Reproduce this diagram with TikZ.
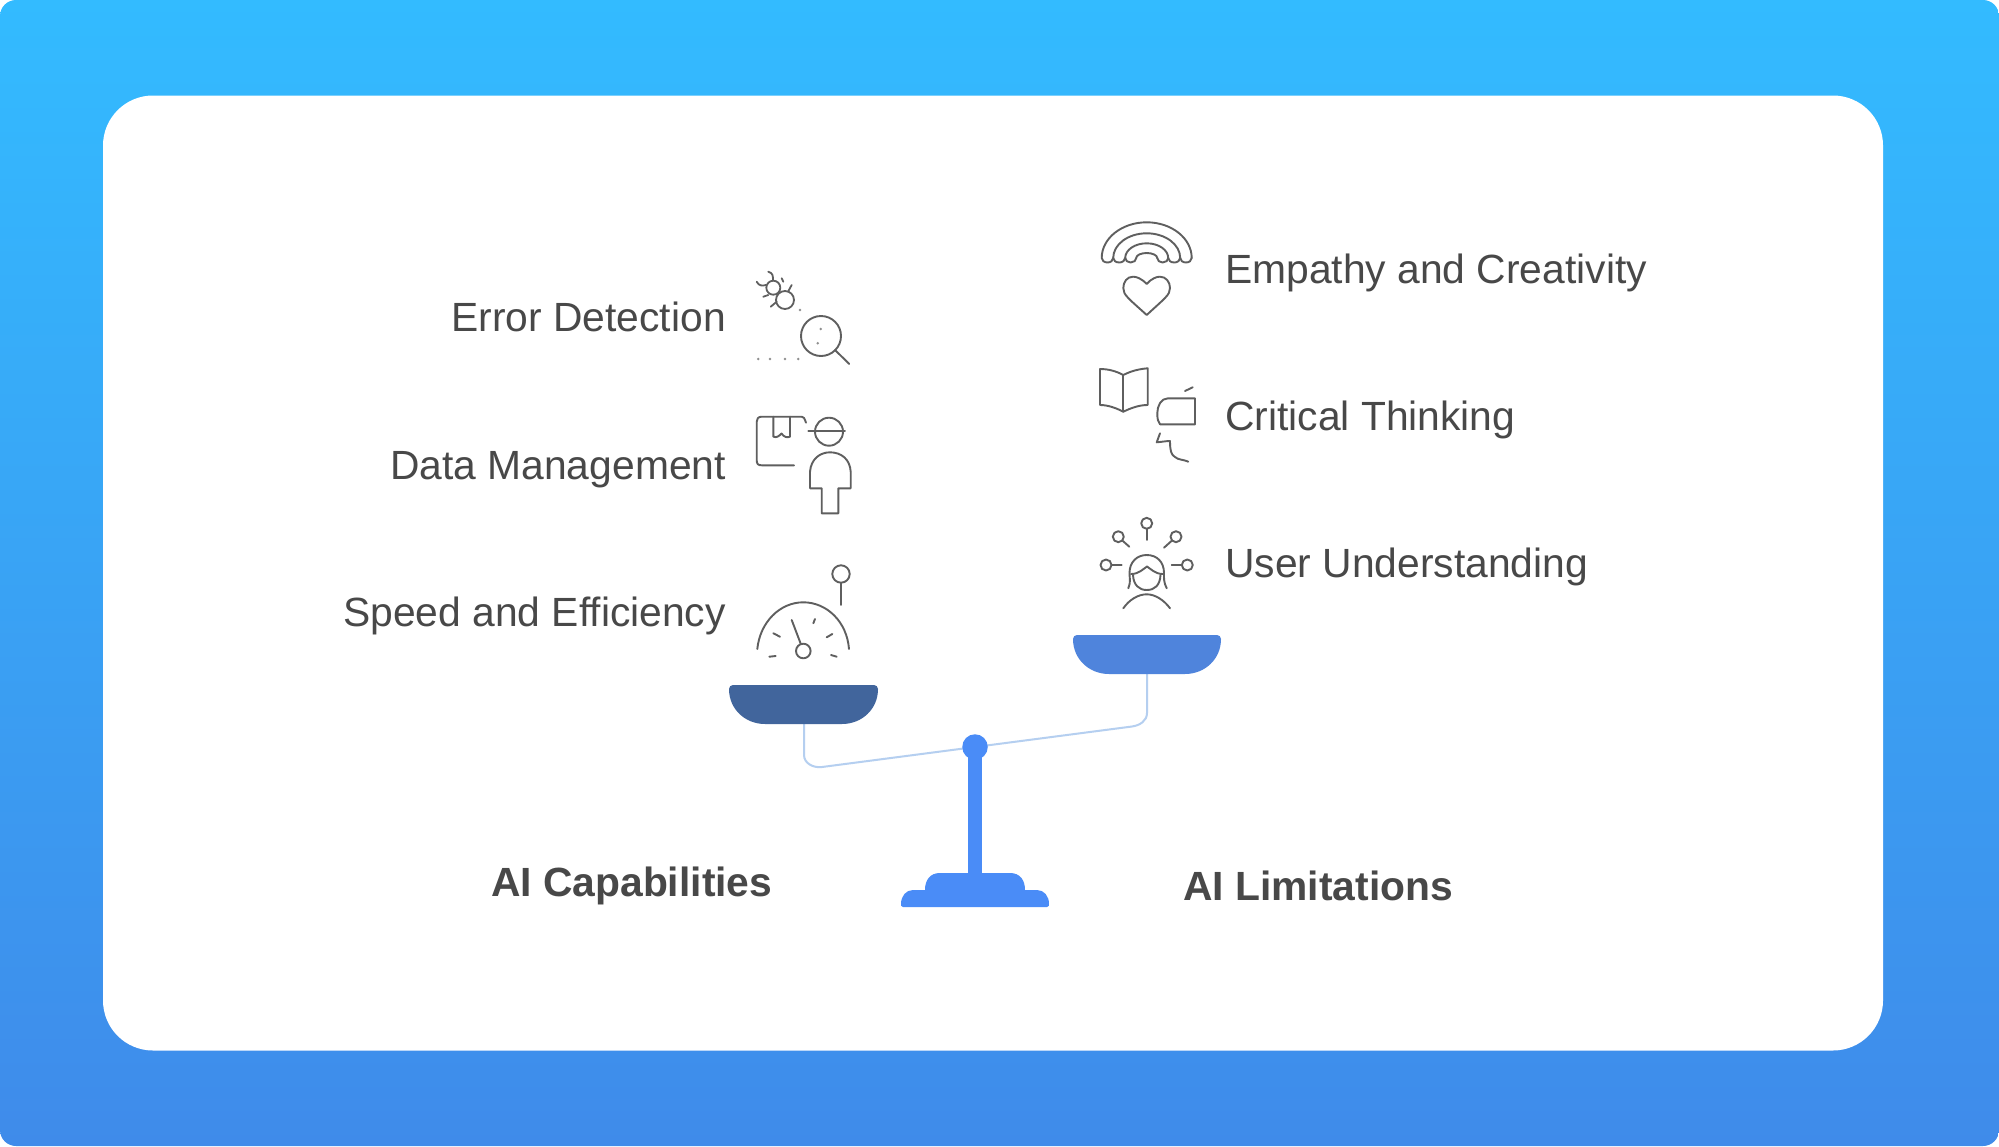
\documentclass[tikz,border=0pt]{standalone}
\usepackage{fontspec}
\setmainfont{Liberation Sans}
\definecolor{txt}{HTML}{484848}
\definecolor{ico}{HTML}{5F5F5F}
\definecolor{bgtop}{HTML}{33BBFF}
\definecolor{bgbot}{HTML}{3F8BEA}
\definecolor{panL}{HTML}{41659C}
\definecolor{panR}{HTML}{4F84DC}
\definecolor{stand}{HTML}{4A8CF7}
\definecolor{beam}{HTML}{B5CFF0}
\tikzset{
 lbl/.style={font=\fontsize{40.8}{48}\selectfont,text=txt,inner sep=0pt},
 head/.style={font=\fontsize{40.8}{48}\selectfont\bfseries,text=txt,inner sep=0pt},
 icon/.style={draw=ico,line width=1.9pt,line cap=round,line join=round},
 thin icon/.style={draw=ico,line width=1.8pt,line cap=round,line join=round},
 beamline/.style={draw=beam,line width=2pt,line join=round}
}
\begin{document}
\begin{tikzpicture}[x=1pt,y=1pt]
\useasboundingbox (0,-1146) rectangle (1999,0);
\fill[white] (0,-1146) rectangle (1999,0);
\shade[top color=bgtop,bottom color=bgbot,middle color=bgbot!50!bgtop,rounded corners=16pt] (0,-1146) rectangle (1999,0);
\fill[white,rounded corners=50pt] (103,-1050.5) rectangle (1883,-95.5);
% labels
\node[lbl,anchor=base east] (err) at (726,-331.5) {Error Detection};
\node[lbl,anchor=base east] (dat) at (726,-479) {Data Management};
\node[lbl,anchor=base east] (spd) at (726,-626) {Speed and Efficiency};
\node[lbl,anchor=base west] (emp) at (1225,-283) {Empathy and Creativity};
\node[lbl,anchor=base west] (cri) at (1225,-430) {Critical Thinking};
\node[lbl,anchor=base west] (usr) at (1225,-577.5) {User Understanding};
\node[head,anchor=base west] (cap) at (491,-896) {AI Capabilities};
\node[head,anchor=base west] (lim) at (1183,-900) {AI Limitations};
% scale
\coordinate (panLb) at (804,-724);
\coordinate (panRb) at (1147,-674);
\coordinate (pivot) at (975,-747);
\draw[beamline] (panLb) -- (804,-755) to[out=-90,in=188] (822,-767) -- (pivot);
\draw[beamline] (panRb) -- (1147,-713) to[out=-90,in=8] (1132,-726.5) -- (pivot);
\fill[panL] (729,-689) arc[start angle=180,end angle=90,radius=4] -- (874,-685) arc[start angle=90,end angle=0,radius=4]
 .. controls (878,-709) and (862,-724) .. (842,-724) -- (765,-724) .. controls (745,-724) and (729,-709) .. (729,-689) -- cycle;
\fill[panR] (1073,-639) arc[start angle=180,end angle=90,radius=4] -- (1217,-635) arc[start angle=90,end angle=0,radius=4]
 .. controls (1221,-659) and (1205,-674) .. (1185,-674) -- (1109,-674) .. controls (1089,-674) and (1073,-659) .. (1073,-639) -- cycle;
\fill[stand] (968,-750) rectangle (982,-880);
\node[circle,fill=stand,minimum size=25.5pt,inner sep=0pt] (piv) at (pivot) {};
\fill[stand] (903,-907) .. controls (901,-907) and (901,-905) .. (901,-904) .. controls (901,-896) and (906,-890) .. (913,-890) -- (925,-890)
 .. controls (925,-880) and (930,-873) .. (940,-873) -- (1010,-873) .. controls (1020,-873) and (1025,-880) .. (1025,-890)
 -- (1037,-890) .. controls (1044,-890) and (1049,-896) .. (1049,-904) .. controls (1049,-905) and (1049,-907) .. (1047,-907) -- cycle;
% bug + magnifier
\draw[thin icon] (773.3,-287.7) circle[radius=7];
\draw[thin icon] (785,-300) circle[radius=9];
\draw[thin icon] (768.3,-271.7) .. controls (773,-273) and (773,-276) .. (773,-280.5);
\draw[thin icon] (756.7,-281.7) .. controls (759,-286) and (762,-286) .. (766,-285);
\draw[thin icon] (781.7,-278.3) -- (783.3,-281.7);
\draw[thin icon] (791.7,-285) -- (788,-291.7);
\draw[thin icon] (763.3,-296.7) -- (768.3,-295);
\draw[thin icon] (770.7,-306.7) -- (776.7,-301.7);
\draw[icon] (821,-336) circle[radius=20];
\draw[icon] (835,-350) -- (849.3,-364);
\foreach \p in {(820.7,-329),(817.7,-343.3),(800,-310),(758.3,-359),(770,-359),(785,-359),(798.3,-359)}
  \fill[ico!70] \p circle[radius=1.4];
% box + person
\draw[icon] (806,-422.7) .. controls (804.5,-418) and (803.5,-416.7) .. (801.7,-416.7) -- (761.7,-416.7)
  .. controls (758,-416.7) and (756.7,-419) .. (756.7,-421.7) -- (756.7,-460)
  .. controls (756.7,-464) and (758,-465.3) .. (761.7,-465.3) -- (794,-465.3);
\draw[icon] (773.3,-416.7) -- (773.3,-436.7) .. controls (777,-438) and (779,-436) .. (781.5,-433.5) .. controls (784,-437) and (787,-438) .. (790,-436.7) -- (790,-416.7);
\draw[icon] (829,-431.7) circle[radius=14];
\draw[icon] (808.3,-430.7) -- (845,-430.7);
\draw[icon] (810,-488.3) -- (810,-471.7) .. controls (811,-459) and (820,-452.3) .. (830,-452.3)
  .. controls (841,-452.3) and (850,-459) .. (850.7,-471.7) -- (850.7,-488.3) -- (838.3,-488.3) -- (838.3,-513.3) -- (821.7,-513.3) -- (821.7,-488.3) -- cycle;
% gauge
\draw[icon] (841,-574) circle[radius=8.7];
\draw[icon] (841,-582.7) -- (841,-605);
\draw[icon] (757.3,-649) .. controls (760,-622) and (780,-602.3) .. (803.3,-602.3) .. controls (827,-602.3) and (847,-622) .. (849,-649);
\draw[icon] (803.3,-651) circle[radius=7.3];
\draw[icon] (791.7,-620) -- (800.7,-643.7);
\draw[icon] (773.3,-633.3) -- (780,-636.7);
\draw[icon] (813.3,-623.3) -- (815,-619);
\draw[icon] (826.7,-637.3) -- (832.3,-634);
\draw[icon] (769.3,-656.7) -- (775.7,-656);
\draw[icon] (831,-655) -- (836.7,-656.7);
% rainbow + heart
\foreach \rx/\ry in {45/35.7,33.5/24.7,21.5/14.7,10.5/5} {
  \draw[icon] (1146.7-\rx,-258) arc[start angle=180,end angle=0,x radius=\rx,y radius=\ry];
}
\foreach \xa/\w in {1101.7/5.75,1113.2/6,1125.2/5.5,1157.2/5.5,1168.2/6,1180.2/5.75} {
  \draw[icon] (\xa,-258) arc[start angle=180,end angle=360,x radius=\w,y radius=4.5];
}
\draw[icon] (1146.7,-284) .. controls (1141,-278) and (1136,-276.7) .. (1133,-276.7)
  .. controls (1127,-276.7) and (1123.3,-282) .. (1123.3,-288) .. controls (1123.3,-295) and (1128,-298) .. (1146.7,-315)
  .. controls (1165,-298) and (1170,-295) .. (1170,-288) .. controls (1170,-282) and (1166,-276.7) .. (1160,-276.7)
  .. controls (1157,-276.7) and (1152,-278) .. (1146.7,-284) -- cycle;
% book + screen
\draw[icon] (1123.3,-375) .. controls (1116,-371) and (1108,-369) .. (1100,-369) -- (1100,-405) .. controls (1108,-405) and (1116,-408) .. (1123.3,-411.7)
 .. controls (1131,-408) and (1139,-405) .. (1147.7,-405) -- (1147.7,-368.3) .. controls (1139,-369) and (1131,-371) .. (1123.3,-375) -- cycle;
\draw[icon] (1123.3,-375) -- (1123.3,-411.7);
\draw[icon] (1195,-398.3) -- (1168,-398.3) .. controls (1161,-398.3) and (1157.3,-406) .. (1157.3,-413) .. controls (1157.3,-419) and (1158,-422) .. (1160,-424.3) -- (1195,-424.3) -- cycle;
\draw[icon] (1185,-391) -- (1192.7,-387.3);
\draw[icon] (1160,-433.3) -- (1156.7,-442.3) .. controls (1161,-442) and (1166,-441) .. (1170,-441) .. controls (1170,-450) and (1171,-455) .. (1175,-457) .. controls (1178,-460) and (1184,-459.5) .. (1188.3,-461.7);
% user
\draw[icon] (1128.3,-588.3) .. controls (1131,-582) and (1129.5,-578) .. (1129.5,-573) .. controls (1129.5,-562) and (1137,-555) .. (1146.7,-555) .. controls (1157,-555) and (1164,-562) .. (1164,-573) .. controls (1164,-578) and (1163.5,-582) .. (1166.7,-588.3);
\draw[icon] (1133,-575) .. controls (1133.5,-585) and (1139,-590) .. (1146.7,-590) .. controls (1155,-590) and (1160,-585) .. (1160.5,-575);
\draw[icon] (1131,-574) .. controls (1139,-574) and (1143,-569) .. (1147,-566.5) .. controls (1151,-569) and (1155,-574) .. (1163,-574);
\draw[icon] (1123.3,-608.3) .. controls (1129,-600) and (1138,-594.3) .. (1146.7,-594.3) .. controls (1155,-594.3) and (1164,-600) .. (1170,-608.3);
\draw[icon] (1146.7,-523.3) circle[radius=5.5];
\draw[icon] (1146.7,-528.8) -- (1146.7,-540);
\draw[icon] (1118.3,-536.7) circle[radius=5.5];
\draw[icon] (1122.3,-540.5) -- (1129.3,-546.7);
\draw[icon] (1176,-536.7) circle[radius=5.5];
\draw[icon] (1172,-540.5) -- (1164,-547.7);
\draw[icon] (1106,-565) circle[radius=5.5];
\draw[icon] (1111.5,-565) -- (1121.7,-565);
\draw[icon] (1187.3,-565) circle[radius=5.5];
\draw[icon] (1181.8,-565) -- (1171.7,-565);
\end{tikzpicture}
\end{document}
